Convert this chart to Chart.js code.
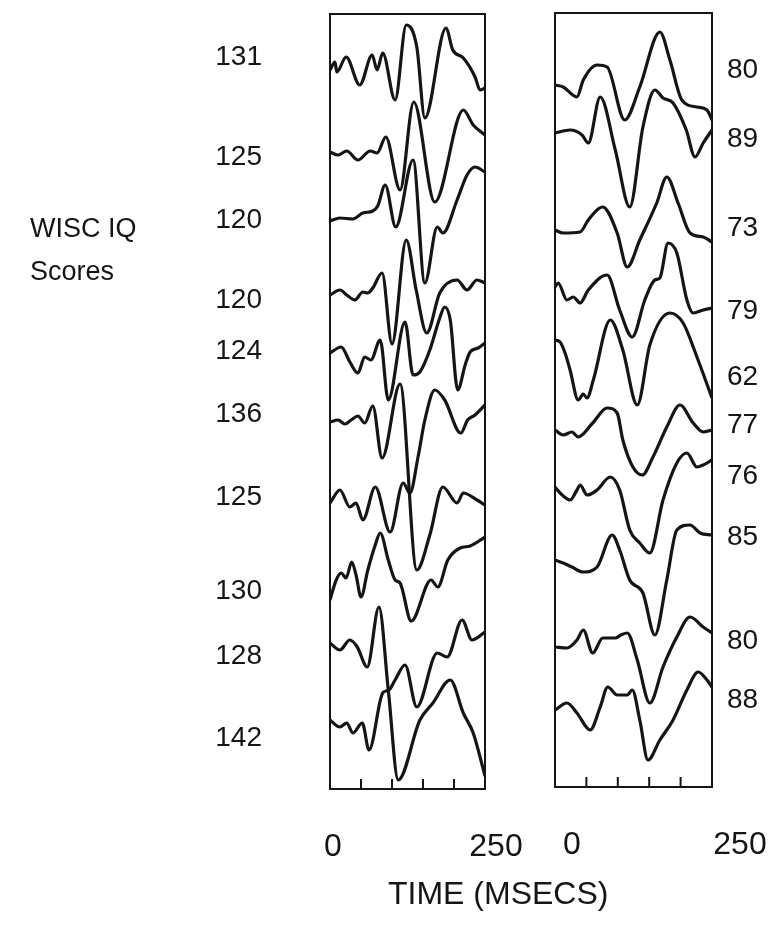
<!DOCTYPE html>
<html>
<head>
<meta charset="utf-8">
<script src="https://cdn.jsdelivr.net/npm/chart.js@4"></script>
<style>
  body { margin: 0; background: #fff; width: 780px; height: 928px; position: relative; overflow: hidden;
         font-family: "Liberation Sans", Arial, sans-serif; color: #151515; }
  .panel { position: absolute; top: 0; }
  .txt { position: absolute; white-space: nowrap; line-height: 1; }
</style>
</head>
<body>
<div class="panel" style="left:0;width:540px;height:928px"><canvas id="leftChart" width="540" height="928"></canvas></div>
<div class="panel" style="left:540px;width:240px;height:928px"><canvas id="rightChart" width="240" height="928"></canvas></div>
<div class="txt" style="left:30px;top:215px;font-size:27px">WISC IQ</div>
<div class="txt" style="left:30px;top:258px;font-size:27px">Scores</div>
<div class="txt" style="left:388px;top:877px;font-size:32px">TIME (MSECS)</div>
<script>
// time axis (msec)
const timeRange = [0, 250];
const timeTicks = [50, 100, 150, 200];
const timeLabels = ['0', '250'];

// ---- left panel: high WISC IQ group ----
const leftScores = ['131', '125', '120', '120', '124', '136', '125', '130', '128', '142'];
const leftLabelLevels = [732, 632, 569, 489, 438, 375, 292, 198, 133, 51];
const leftOffsets = [719, 637, 568, 494, 436, 367, 286, 189, 146, 69];
const leftTimes = [
  [0, 8, 11, 26, 48, 68, 76, 85, 105, 123, 140, 153, 187, 198, 215, 234, 242, 250],
  [0, 13, 27, 45, 65, 76, 90, 113, 135, 169, 215, 231, 250],
  [0, 16, 37, 53, 69, 77, 89, 106, 134, 153, 173, 182, 205, 221, 234, 250],
  [0, 16, 27, 40, 53, 61, 69, 84, 100, 123, 139, 156, 177, 205, 221, 237, 250],
  [0, 18, 32, 45, 56, 66, 81, 94, 121, 134, 145, 161, 177, 185, 194, 206, 218, 226, 239, 250],
  [0, 13, 24, 34, 45, 56, 69, 84, 113, 140, 161, 182, 205, 215, 237, 250],
  [0, 16, 32, 42, 53, 73, 97, 118, 129, 142, 153, 169, 185, 211, 222, 234, 250],
  [0, 10, 18, 26, 35, 42, 50, 61, 73, 81, 94, 105, 113, 131, 163, 174, 190, 210, 226, 250],
  [0, 16, 32, 44, 60, 79, 94, 110, 145, 166, 194, 215, 231, 250],
  [0, 16, 27, 37, 52, 63, 85, 95, 105, 121, 140, 173, 189, 213, 229, 250]
];
const leftAmps = [
  [0, 8, -2, 13, -15, 15, 0, 17, -30, 45, 23, -48, 42, 20, 12, -7, -20, -18],
  [0, -3, 1, -8, 1, -1, 15, -38, 50, -50, 42, 27, 17],
  [0, 3, 2, 8, 10, 15, 36, -6, 61, -62, -6, -12, 21, 46, 54, 49],
  [0, 5, 0, -5, 3, 2, 7, 22, -49, 55, 5, -38, 2, 15, 5, 15, 12],
  [0, 6, -9, -20, -4, -7, 13, -47, 31, -22, -19, 3, 35, 46, 33, -37, -12, 1, 5, 10],
  [0, 2, -2, 2, 6, -1, 16, -36, 38, -148, -113, -65, -81, -71, -78, -83],
  [0, 13, -4, 0, -17, 16, -29, 20, 10, 46, 83, 113, 103, 70, 83, 88, 98],
  [0, 20, 27, 22, 38, 25, 3, 30, 55, 67, 40, 20, 17, -21, 20, 13, 40, 52, 54, 63],
  [0, -7, 3, -4, -24, 36, -47, -137, -77, -60, -37, -70, -90, -133],
  [0, -7, -3, -13, -3, -30, 27, 30, 40, 55, 13, 67, 63, 100, 80, 88]
];

// ---- right panel: low WISC IQ group ----
const rightScores = ['80', '89', '73', '79', '62', '77', '76', '85', '80', '88'];
const rightLabelLevels = [717, 648, 559, 476, 410, 362, 311, 250, 146, 87];
const rightOffsets = [702, 654, 557, 500, 447, 357, 300, 227, 140, 77];
const rightTimes = [
  [0, 13, 35, 45, 67, 83, 111, 135, 167, 183, 202, 226, 242, 250],
  [0, 24, 43, 53, 72, 96, 119, 140, 159, 172, 188, 209, 223, 236, 250],
  [0, 13, 40, 53, 76, 99, 115, 135, 162, 178, 196, 215, 236, 250],
  [0, 5, 19, 29, 40, 53, 83, 103, 123, 143, 159, 167, 180, 194, 210, 220, 236, 250],
  [0, 8, 16, 24, 37, 45, 51, 61, 88, 108, 131, 151, 183, 204, 226, 250],
  [0, 13, 27, 37, 60, 83, 99, 108, 124, 139, 156, 178, 199, 220, 236, 250],
  [0, 8, 24, 35, 40, 51, 67, 88, 103, 119, 135, 151, 172, 194, 210, 226, 236, 250],
  [0, 13, 27, 45, 67, 91, 103, 119, 140, 159, 178, 194, 215, 231, 250],
  [0, 19, 35, 45, 60, 76, 96, 105, 115, 131, 151, 172, 194, 215, 236, 250],
  [0, 19, 35, 56, 72, 84, 99, 115, 123, 135, 148, 167, 188, 210, 228, 242, 250]
];
const rightAmps = [
  [0, -2, -12, 5, 20, 18, -35, -2, 53, 25, -15, -22, -25, -35],
  [0, 3, -2, -10, 36, -17, -74, 6, 43, 35, 30, 3, -24, -10, 3],
  [0, -3, -2, 10, 23, -3, -37, -10, 27, 53, 27, -3, -7, -12],
  [0, 4, -13, -10, -16, -3, 12, -23, -50, -13, 7, 9, 44, 34, -13, -26, -23, -21],
  [0, -2, -13, -30, -60, -54, -58, -40, 20, -10, -65, -5, 27, 17, -17, -58],
  [0, -5, -2, -7, 7, 22, 17, -10, -37, -45, -27, 3, 25, 7, -2, 0],
  [0, -6, -13, -3, 2, -8, -3, 10, -3, -43, -56, -66, -13, 24, 34, 20, 22, 27],
  [0, -3, -7, -12, -7, 25, 10, -20, -33, -75, -20, 30, 35, 27, 25],
  [0, -1, 7, 17, -6, 9, 9, 12, 14, -13, -56, -20, 10, 30, 20, 14],
  [0, 7, -3, -20, 3, 23, 15, 15, 20, -10, -50, -30, -10, 20, 38, 30, 23]
];

const INK = '#151515';
const FONT = '"Liberation Sans", Arial, sans-serif';

// box, inner ticks and text around each panel
const panelFrame = {
  id: 'panelFrame',
  afterDatasetsDraw(chart, args, opts) {
    const { ctx, chartArea: a, scales: { x, y } } = chart;
    ctx.save();
    ctx.strokeStyle = INK;
    ctx.lineWidth = 2;
    ctx.strokeRect(a.left, a.top, a.right - a.left, a.bottom - a.top);
    ctx.beginPath();
    timeTicks.forEach(t => {
      const px = x.getPixelForValue(t);
      ctx.moveTo(px, a.bottom);
      ctx.lineTo(px, a.bottom - 10);
    });
    ctx.stroke();

    ctx.fillStyle = INK;
    ctx.font = '28px ' + FONT;
    ctx.textBaseline = 'middle';
    const onLeft = opts.side === 'left';
    ctx.textAlign = onLeft ? 'right' : 'left';
    const lx = onLeft ? a.left - 68 : a.right + 15;
    opts.scores.forEach((s, i) => ctx.fillText(s, lx, y.getPixelForValue(opts.levels[i])));

    ctx.font = '32px ' + FONT;
    ctx.textAlign = 'center';
    ctx.fillText(timeLabels[0], x.getPixelForValue(timeRange[0]) + opts.zeroShift, a.bottom + 58);
    ctx.fillText(timeLabels[1], x.getPixelForValue(timeRange[1]) + opts.endShift, a.bottom + 58);
    ctx.restore();
  }
};

function makePanel(canvasId, times, amps, offsets, scores, levels, padding, yMax, side, zeroShift, endShift) {
  const datasets = times.map((ts, i) => ({
    data: ts.map((t, j) => ({ x: t, y: offsets[i] + amps[i][j] })),
    borderColor: INK,
    borderWidth: 3.2,
    pointRadius: 0,
    fill: false,
    cubicInterpolationMode: 'monotone'
  }));
  return new Chart(document.getElementById(canvasId), {
    type: 'line',
    data: { datasets },
    options: {
      responsive: false,
      animation: false,
      events: [],
      layout: { padding },
      plugins: {
        legend: { display: false },
        tooltip: { enabled: false },
        panelFrame: { side, scores, levels, zeroShift, endShift }
      },
      scales: {
        x: { type: 'linear', min: timeRange[0], max: timeRange[1], display: false },
        y: { min: 0, max: yMax, display: false }
      }
    },
    plugins: [panelFrame]
  });
}

makePanel('leftChart', leftTimes, leftAmps, leftOffsets, leftScores, leftLabelLevels,
  { left: 330, right: 55, top: 14, bottom: 139 }, 775, 'left', 3, 11);
makePanel('rightChart', rightTimes, rightAmps, rightOffsets, rightScores, rightLabelLevels,
  { left: 15, right: 68, top: 13, bottom: 141 }, 774, 'right', 17, 28);
</script>
</body>
</html>
